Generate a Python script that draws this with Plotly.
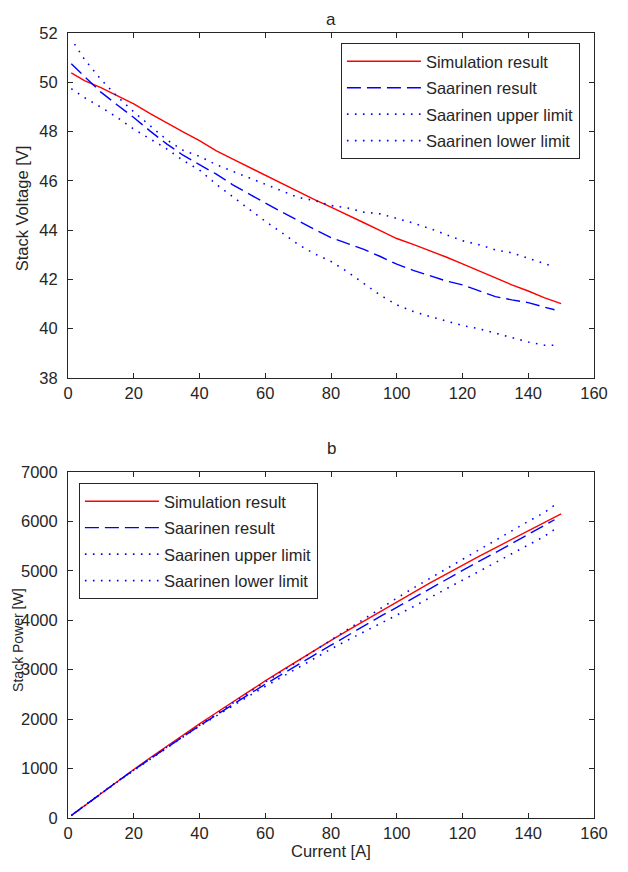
import plotly.graph_objects as go

# ---- data ----
cur_sim = [1, 5, 10, 15, 20, 25, 30, 35, 40, 45, 50, 55, 60, 65, 70, 75, 80, 85, 90, 95, 100,
           105, 110, 115, 120, 125, 130, 135, 140, 145, 150]
v_sim = [50.38, 50.07, 49.78, 49.46, 49.12, 48.73, 48.35, 47.99, 47.63, 47.23, 46.89, 46.56,
         46.22, 45.88, 45.55, 45.24, 44.93, 44.60, 44.30, 43.98, 43.66, 43.42, 43.18, 42.91,
         42.63, 42.35, 42.05, 41.78, 41.53, 41.25, 41.02]

cur_sa = [1, 5, 10, 15, 20, 25, 30, 35, 40, 45, 50, 55, 60, 65, 70, 75, 80, 85, 90, 95, 100,
          105, 110, 115, 120, 125, 130, 135, 140, 145, 148]
v_sa = [50.75, 50.22, 49.60, 49.08, 48.57, 48.02, 47.50, 47.04, 46.67, 46.28, 45.85, 45.46,
        45.10, 44.74, 44.38, 44.03, 43.70, 43.46, 43.22, 42.93, 42.62, 42.37, 42.14, 41.94,
        41.78, 41.55, 41.30, 41.17, 41.06, 40.87, 40.77]

cur_up = [2, 5, 10, 15, 20, 25, 30, 35, 40, 45, 50, 55, 60, 65, 70, 75, 80, 85, 90, 95, 100,
          105, 110, 115, 120, 125, 130, 135, 140, 145, 148]
v_up = [51.55, 50.93, 50.12, 49.42, 48.80, 48.25, 47.67, 47.24, 47.00, 46.66, 46.40, 46.14,
        45.86, 45.59, 45.33, 45.20, 45.00, 44.90, 44.73, 44.66, 44.48, 44.29, 44.07, 43.82,
        43.57, 43.41, 43.20, 43.08, 42.87, 42.64, 42.51]

cur_lo = [1, 5, 10, 15, 20, 25, 30, 35, 40, 45, 50, 55, 60, 65, 70, 75, 80, 85, 90, 95, 100,
          105, 110, 115, 120, 125, 130, 135, 140, 145, 148]
v_lo = [49.74, 49.38, 48.99, 48.57, 48.10, 47.70, 47.30, 46.83, 46.44, 45.87, 45.37, 44.85,
        44.36, 43.90, 43.42, 43.04, 42.73, 42.31, 41.83, 41.36, 40.97, 40.70, 40.50, 40.30,
        40.13, 40.00, 39.82, 39.67, 39.46, 39.33, 39.33]

p_sim = [50, 250, 498, 742, 982, 1218, 1451, 1680, 1905, 2125, 2345, 2561, 2773, 2982, 3189,
         3393, 3594, 3791, 3987, 4178, 4366, 4559, 4750, 4935, 5116, 5294, 5467, 5640, 5814,
         5981, 6153]
p_sa = [51, 251, 496, 736, 971, 1200, 1425, 1646, 1867, 2083, 2293, 2500, 2706, 2908, 3107,
        3302, 3496, 3694, 3890, 4078, 4262, 4449, 4635, 4823, 5014, 5194, 5369, 5558, 5748,
        5926, 6034]
p_up = [103, 255, 501, 741, 976, 1206, 1430, 1653, 1880, 2100, 2320, 2538, 2752, 2963, 3173,
        3390, 3600, 3817, 4026, 4243, 4448, 4650, 4848, 5039, 5228, 5426, 5616, 5816, 6002,
        6183, 6330]
p_lo = [50, 247, 490, 729, 962, 1193, 1419, 1639, 1858, 2064, 2269, 2467, 2662, 2854, 3039,
        3228, 3418, 3596, 3765, 3929, 4097, 4274, 4455, 4635, 4816, 5000, 5177, 5355, 5524,
        5703, 5840]

names = ["Simulation result", "Saarinen result", "Saarinen upper limit", "Saarinen lower limit"]
x_ticks = [0, 20, 40, 60, 80, 100, 120, 140, 160]
v_ticks = [38, 40, 42, 44, 46, 48, 50, 52]
p_ticks = [0, 1000, 2000, 3000, 4000, 5000, 6000, 7000]

# ---- styling ----
FONT = "Liberation Sans, Arial, sans-serif"
TXT = "#262626"
FS = 16.5
styles = [
    dict(color="#ff0000", width=1.4, dash="solid"),
    dict(color="#0000ff", width=1.4, dash="14px,6px"),
    dict(color="#0000ff", width=1.6, dash="1.6px,6.4px"),
    dict(color="#0000ff", width=1.6, dash="1.6px,6.4px"),
]

fig = go.Figure()
top = [(cur_sim, v_sim), (cur_sa, v_sa), (cur_up, v_up), (cur_lo, v_lo)]
bot = [(cur_sim, p_sim), (cur_sa, p_sa), (cur_up, p_up), (cur_lo, p_lo)]
for i, (xs, ys) in enumerate(top):
    fig.add_trace(go.Scatter(x=xs, y=ys, mode="lines", name=names[i], line=styles[i],
                             xaxis="x", yaxis="y", legend="legend", legendgroup="a%d" % i))
for i, (xs, ys) in enumerate(bot):
    fig.add_trace(go.Scatter(x=xs, y=ys, mode="lines", name=names[i], line=styles[i],
                             xaxis="x2", yaxis="y2", legend="legend2", legendgroup="b%d" % i))

# page has an 8px body margin -> figure is 612x856, placed at (8, 8)
OFF = 8
W, H = 628 - 2 * OFF, 872 - 2 * OFF
PL, PR = 68, 598            # plot left/right in page pixels
PT1, PB1 = 33, 378          # top plot
PT2, PB2 = 472, 818         # bottom plot
L, R, T, B = PL - OFF, W - (PR - OFF), PT1 - OFF, H - (PB2 - OFF)
pw = PR - PL
ph = H - T - B


def px_x(p):  # page pixel -> paper x
    return (p - PL) / pw


def px_y(p):  # page pixel -> paper y
    return (PB2 - p) / ph


top_dom = [px_y(PB1), 1.0]
bot_dom = [0.0, px_y(PT2)]

axis_common = dict(showline=True, linecolor="#262626", linewidth=1, mirror="ticks",
                   ticks="inside", ticklen=5, tickcolor="#262626", showgrid=False,
                   zeroline=False, tickfont=dict(family=FONT, size=FS, color=TXT))

leg_common = dict(bgcolor="white", bordercolor="#262626", borderwidth=1,
                  font=dict(family=FONT, size=FS, color=TXT), traceorder="grouped",
                  tracegroupgap=2, xanchor="left", yanchor="top", itemwidth=74)

fig.update_layout(
    width=W, height=H, margin=dict(l=L, r=R, t=T, b=B),
    plot_bgcolor="white", paper_bgcolor="white",
    font=dict(family=FONT, size=FS, color=TXT),
    xaxis=dict(axis_common, domain=[0, 1], range=[0, 160], tickvals=x_ticks, anchor="y"),
    yaxis=dict(axis_common, domain=top_dom, range=[38, 52], tickvals=v_ticks, anchor="x",
               ticklabelstandoff=6),
    xaxis2=dict(axis_common, domain=[0, 1], range=[0, 160], tickvals=x_ticks, anchor="y2"),
    yaxis2=dict(axis_common, domain=bot_dom, range=[0, 7000], tickvals=p_ticks, anchor="x2",
                ticklabelstandoff=6),
    legend=dict(leg_common, x=px_x(343), y=px_y(43)),
    legend2=dict(leg_common, x=px_x(79), y=px_y(483)),
    showlegend=True,
)

ann = [
    dict(text="a", x=0.5, y=px_y(9), size=17, anchor="top"),
    dict(text="b", x=0.5, y=px_y(448), size=17, anchor="middle"),
    dict(text="Current [A]", x=0.5, y=px_y(851), size=FS, anchor="middle"),
    dict(text="Stack Voltage [V]", x=px_x(22), y=px_y(208), size=FS, angle=-90, anchor="middle"),
    dict(text="Stack Power [W]", x=px_x(17.5), y=px_y(640), size=14, angle=-90, anchor="middle"),
]
for a in ann:
    fig.add_annotation(xref="paper", yref="paper", showarrow=False, xanchor="center",
                       yanchor=a["anchor"], font=dict(family=FONT, color=TXT, size=a["size"]),
                       text=a["text"], x=a["x"], y=a["y"], textangle=a.get("angle", 0),
                       borderpad=0)

fig.write_html("out.html")
